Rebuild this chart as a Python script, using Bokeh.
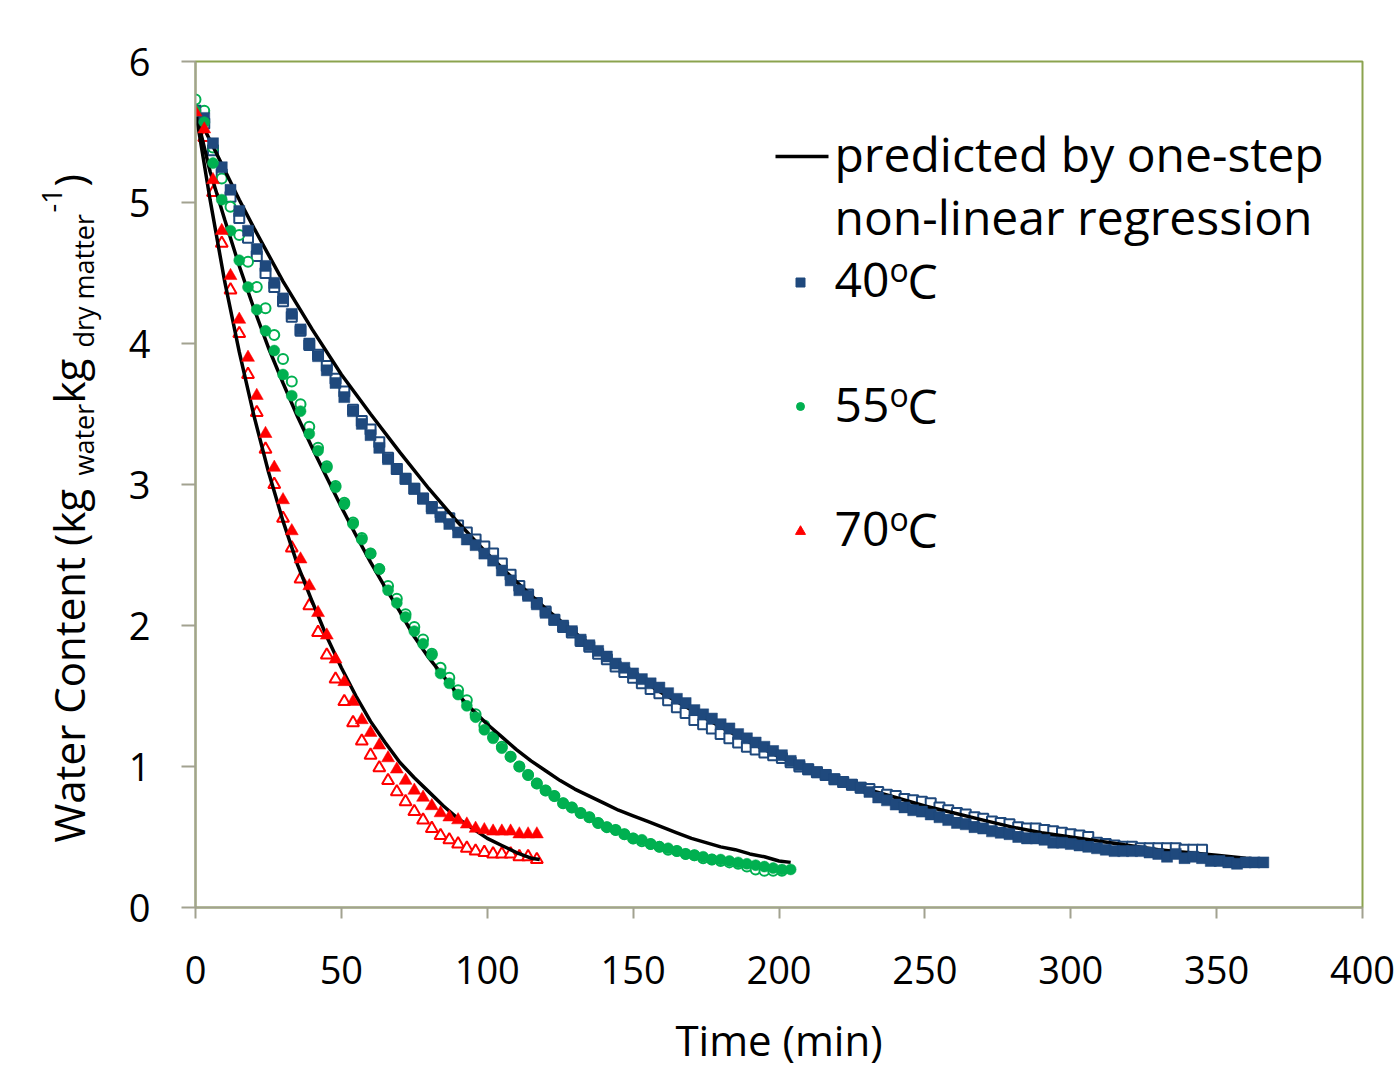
from bokeh.plotting import figure
from bokeh.layouts import row
from bokeh.models import Range1d, Label, FixedTicker
from bokeh.embed import file_html
from bokeh.resources import INLINE

FONT = "Open Sans"

# ---------------- data ----------------
# 40 C, replicate 1 (filled squares) and replicate 2 (hollow squares)
t40_a = list(range(0, 367, 3))
w40_a = [5.65, 5.60, 5.42, 5.25, 5.09, 4.94, 4.80, 4.67, 4.55, 4.43,
         4.32, 4.21, 4.10, 4.00, 3.91, 3.81, 3.72, 3.62, 3.52, 3.43,
         3.35, 3.26, 3.18, 3.11, 3.04, 2.97, 2.90, 2.83, 2.77, 2.72,
         2.66, 2.61, 2.57, 2.51, 2.46, 2.39, 2.32, 2.25, 2.21, 2.15,
         2.09, 2.04, 2.00, 1.96, 1.90, 1.86, 1.82, 1.78, 1.73, 1.70,
         1.66, 1.62, 1.59, 1.56, 1.52, 1.48, 1.45, 1.40, 1.37, 1.34,
         1.30, 1.27, 1.23, 1.20, 1.17, 1.14, 1.11, 1.08, 1.04, 1.01,
         0.98, 0.96, 0.94, 0.91, 0.89, 0.87, 0.85, 0.82, 0.78, 0.76,
         0.73, 0.71, 0.69, 0.68, 0.66, 0.64, 0.62, 0.60, 0.59, 0.57,
         0.56, 0.54, 0.53, 0.52, 0.50, 0.49, 0.49, 0.48, 0.46, 0.46,
         0.45, 0.44, 0.43, 0.42, 0.41, 0.40, 0.40, 0.40, 0.40, 0.39,
         0.38, 0.36, 0.38, 0.35, 0.36, 0.35, 0.33, 0.33, 0.32, 0.31,
         0.32, 0.32, 0.32]
t40_b = list(range(0, 346, 3))
w40_b = [5.65, 5.56, 5.37, 5.20, 5.04, 4.89, 4.75, 4.62, 4.50, 4.40,
         4.30, 4.19, 4.09, 3.99, 3.92, 3.84, 3.75, 3.66, 3.53, 3.45,
         3.39, 3.30, 3.19, 3.11, 3.04, 2.97, 2.90, 2.84, 2.80, 2.76,
         2.71, 2.66, 2.61, 2.56, 2.51, 2.44, 2.36, 2.28, 2.22, 2.16,
         2.10, 2.04, 1.99, 1.95, 1.89, 1.85, 1.80, 1.76, 1.71, 1.67,
         1.63, 1.59, 1.55, 1.52, 1.47, 1.42, 1.38, 1.33, 1.30, 1.27,
         1.23, 1.20, 1.17, 1.14, 1.12, 1.10, 1.08, 1.06, 1.03, 1.00,
         0.98, 0.96, 0.94, 0.91, 0.89, 0.87, 0.85, 0.84, 0.82, 0.80,
         0.79, 0.77, 0.76, 0.75, 0.74, 0.71, 0.69, 0.67, 0.66, 0.64,
         0.63, 0.61, 0.60, 0.59, 0.57, 0.56, 0.56, 0.55, 0.54, 0.53,
         0.52, 0.51, 0.50, 0.46, 0.45, 0.44, 0.43, 0.43, 0.42, 0.42,
         0.42, 0.42, 0.42, 0.41, 0.41, 0.41]

# 55 C
t55_a = list(range(0, 205, 3))
w55_a = [5.65, 5.57, 5.28, 5.02, 4.80, 4.59, 4.40, 4.24, 4.09, 3.95,
         3.78, 3.63, 3.52, 3.36, 3.24, 3.12, 2.98, 2.86, 2.72, 2.61,
         2.51, 2.40, 2.25, 2.16, 2.06, 1.96, 1.87, 1.79, 1.66, 1.59,
         1.51, 1.43, 1.35, 1.26, 1.20, 1.13, 1.07, 1.00, 0.94, 0.88,
         0.83, 0.79, 0.74, 0.71, 0.67, 0.64, 0.60, 0.57, 0.55, 0.52,
         0.49, 0.48, 0.45, 0.43, 0.42, 0.40, 0.38, 0.37, 0.36, 0.34,
         0.34, 0.33, 0.32, 0.31, 0.30, 0.29, 0.28, 0.27, 0.27]
t55_b = list(range(0, 202, 3))
w55_b = [5.73, 5.65, 5.39, 5.17, 4.97, 4.77, 4.58, 4.40, 4.25, 4.06,
         3.89, 3.73, 3.57, 3.41, 3.26, 3.13, 2.99, 2.87, 2.73, 2.62,
         2.51, 2.40, 2.28, 2.19, 2.08, 1.99, 1.90, 1.80, 1.70, 1.63,
         1.54, 1.47, 1.37, 1.29, 1.21, 1.14, 1.07, 1.00, 0.94, 0.88,
         0.83, 0.79, 0.74, 0.71, 0.67, 0.64, 0.60, 0.57, 0.55, 0.52,
         0.49, 0.47, 0.45, 0.43, 0.41, 0.40, 0.38, 0.37, 0.35, 0.34,
         0.33, 0.32, 0.31, 0.29, 0.27, 0.26, 0.26, 0.26]

# 70 C
t70_a = list(range(0, 118, 3))
w70_a = [5.64, 5.52, 5.16, 4.80, 4.48, 4.17, 3.90, 3.63, 3.36, 3.12,
         2.89, 2.67, 2.47, 2.28, 2.09, 1.93, 1.76, 1.60, 1.46, 1.33,
         1.24, 1.15, 1.06, 0.98, 0.90, 0.83, 0.78, 0.72, 0.67, 0.64,
         0.62, 0.59, 0.56, 0.55, 0.54, 0.54, 0.54, 0.52, 0.52, 0.52]
t70_b = list(range(0, 118, 3))
w70_b = [5.64, 5.46, 5.07, 4.71, 4.38, 4.07, 3.78, 3.51, 3.25, 3.00,
         2.76, 2.55, 2.33, 2.14, 1.95, 1.79, 1.62, 1.46, 1.31, 1.18,
         1.08, 0.99, 0.90, 0.82, 0.75, 0.68, 0.62, 0.56, 0.51, 0.48,
         0.45, 0.42, 0.40, 0.39, 0.38, 0.38, 0.38, 0.36, 0.36, 0.34]

# curves predicted by one-step non-linear regression
tp40 = [0, 5, 10, 15, 20, 30, 40, 50, 60, 70, 80, 90, 100, 110, 120, 130,
        140, 150, 160, 170, 180, 190, 200, 210, 220, 230, 240, 250, 260,
        270, 280, 290, 300, 310, 320, 330, 340, 350, 360, 366]
wp40 = [5.65, 5.44, 5.23, 5.02, 4.82, 4.44, 4.10, 3.78, 3.50, 3.23, 2.97,
        2.73, 2.51, 2.31, 2.12, 1.95, 1.79, 1.65, 1.52, 1.40, 1.28, 1.17,
        1.07, 0.98, 0.91, 0.84, 0.78, 0.72, 0.67, 0.62, 0.57, 0.53, 0.50,
        0.47, 0.44, 0.41, 0.39, 0.37, 0.35, 0.34]
tp55 = [0, 5, 10, 15, 20, 25, 30, 35, 40, 45, 50, 55, 60, 65, 70, 75, 80,
        85, 90, 95, 100, 105, 110, 115, 120, 125, 130, 135, 140, 145, 150,
        155, 160, 165, 170, 175, 180, 185, 190, 195, 200, 204]
wp55 = [5.65, 5.22, 4.88, 4.55, 4.25, 3.97, 3.72, 3.48, 3.26, 3.05, 2.84,
        2.64, 2.45, 2.27, 2.10, 1.92, 1.77, 1.64, 1.51, 1.40, 1.30, 1.21,
        1.12, 1.04, 0.97, 0.90, 0.84, 0.79, 0.74, 0.69, 0.65, 0.61, 0.57,
        0.53, 0.49, 0.46, 0.43, 0.41, 0.38, 0.36, 0.33, 0.32]
tp70 = [0, 5, 10, 15, 20, 25, 30, 35, 40, 45, 50, 55, 60, 65, 70, 75, 80,
        85, 90, 95, 100, 105, 110, 115, 118]
wp70 = [5.65, 5.02, 4.44, 3.94, 3.49, 3.09, 2.74, 2.43, 2.17, 1.92, 1.70,
        1.50, 1.32, 1.17, 1.03, 0.92, 0.82, 0.72, 0.63, 0.56, 0.49, 0.44,
        0.39, 0.35, 0.34]

x_ticks = [0, 50, 100, 150, 200, 250, 300, 350, 400]
y_ticks = [0, 1, 2, 3, 4, 5, 6]

BLUE = "#1F497D"
GREEN = "#00B050"
RED = "#FF0000"
AXIS = "#A2A290"
OUTLINE = "#8BA34F"

W_TOTAL, H_TOTAL = 1399, 1072
W_TITLE = 110

# page-pixel -> data helpers (layout of the legend only)
PX0, PX1, PY0, PY1 = 195.0, 1362.0, 907.0, 61.0
def dx(px):
    return (px - PX0) / (PX1 - PX0) * 400.0
def dy(py):
    return (PY0 - py) / (PY0 - PY1) * 6.0

BASE_SHIFT = 0.385  # anchor correction (fraction of font size)

p = figure(width=W_TOTAL - W_TITLE, height=H_TOTAL, output_backend="svg",
           toolbar_location=None,
           x_range=Range1d(0, 400), y_range=Range1d(0, 6),
           min_border_left=int(PX0) - W_TITLE, min_border_right=W_TOTAL - int(PX1),
           min_border_top=int(PY1), min_border_bottom=H_TOTAL - int(PY0))
p.background_fill_color = "white"
p.border_fill_color = "white"
p.grid.visible = False
p.outline_line_color = OUTLINE
p.outline_line_width = 2

for ax in (p.xaxis[0], p.yaxis[0]):
    ax.axis_line_color = AXIS
    ax.axis_line_width = 2
    ax.major_tick_line_color = AXIS
    ax.major_tick_line_width = 2
    ax.major_tick_in = 0
    ax.minor_tick_line_color = None
    ax.major_label_text_font = FONT
    ax.major_label_text_font_size = "38px"
    ax.major_label_text_color = "black"

p.xaxis.ticker = FixedTicker(ticks=x_ticks)
p.yaxis.ticker = FixedTicker(ticks=y_ticks)
p.xaxis.major_tick_out = 11
p.yaxis.major_tick_out = 14
p.xaxis.major_label_standoff = 37
p.yaxis.major_label_standoff = 31
p.xaxis.axis_label = "Time (min)"
p.xaxis.axis_label_text_font = FONT
p.xaxis.axis_label_text_font_size = "42px"
p.xaxis.axis_label_text_font_style = "normal"
p.xaxis.axis_label_text_color = "black"
p.xaxis.axis_label_standoff = 24

# hollow replicate markers (drawn first)
p.scatter(t40_b, w40_b, marker="square", size=10, fill_color="white", line_color=BLUE, line_width=2)
p.scatter(t55_b, w55_b, marker="circle", size=10, fill_color="white", line_color=GREEN, line_width=2)
p.scatter(t70_b, w70_b, marker="triangle", size=12, fill_color="white", line_color=RED, line_width=2)

# predicted curves
for tt, ww in ((tp40, wp40), (tp55, wp55), (tp70, wp70)):
    p.line(tt, ww, line_color="black", line_width=3.5)

# filled replicate markers (on top)
p.scatter(t40_a, w40_a, marker="square", size=11, fill_color=BLUE, line_color=BLUE, line_width=0.5)
p.scatter(t55_a, w55_a, marker="circle", size=11, fill_color=GREEN, line_color=GREEN, line_width=0.5)
p.scatter(t70_a, w70_a, marker="triangle", size=13, fill_color=RED, line_color=RED, line_width=0.5)

# ---------------- legend (drawn by hand) ----------------
p.line([dx(775), dx(828)], [dy(156), dy(156)], line_color="black", line_width=3.5)
p.scatter([dx(800)], [dy(282)], marker="square", size=9, fill_color=BLUE, line_color=BLUE)
p.scatter([dx(800)], [dy(406)], marker="circle", size=8, fill_color=GREEN, line_color=GREEN)
p.scatter([dx(800)], [dy(531)], marker="triangle", size=10, fill_color=RED, line_color=RED)

def lab(text, px, py, size):
    p.add_layout(Label(x=dx(px), y=dy(py - BASE_SHIFT * size), text=text,
                       text_font=FONT, text_font_size=f"{size}px",
                       text_color="black", text_align="left",
                       text_baseline="alphabetic"))

LEG = 48
lab("predicted by one-step", 834, 171, LEG)
lab("non-linear regression", 834, 234, LEG)
for txt, base in (("40", 298), ("55", 423), ("70", 547)):
    lab(txt, 834, base, LEG)
    lab("o", 889, base - 17, 32)
    lab("C", 907, base, LEG)

# ---------------- y-axis title (separate narrow svg figure) ----------------
# its frame is aligned with the main frame, so y maps to page pixels 61..907
t = figure(width=W_TITLE, height=H_TOTAL, output_backend="svg",
           toolbar_location=None, x_range=Range1d(0, W_TITLE),
           y_range=Range1d(PY0, PY1), x_axis_type=None, y_axis_type=None,
           min_border_left=0, min_border_right=0, min_border_top=int(PY1),
           min_border_bottom=H_TOTAL - int(PY0))
t.outline_line_color = None
t.grid.visible = False
t.background_fill_color = "white"
t.border_fill_color = "white"

def vlab(text, px_base, py_start, size):
    t.add_layout(Label(x=px_base - BASE_SHIFT * size, y=py_start, text=text,
                       text_font=FONT, text_font_size=f"{size}px",
                       text_color="black", text_align="left",
                       text_baseline="alphabetic", angle=90,
                       angle_units="deg"))

vlab("Water Content (kg", 84, 842, 42)
vlab("water", 93, 475, 27)
vlab(" kg", 84, 403, 42)
vlab("dry matter", 93, 347, 27)
vlab("-1", 62, 212, 27)
vlab(")", 84, 186, 42)

open("out.html", "w").write(file_html(row(t, p), INLINE))
